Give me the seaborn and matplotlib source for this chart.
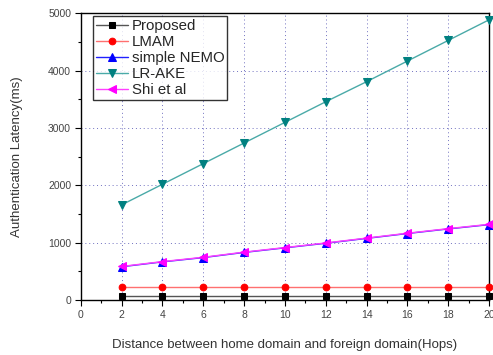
import numpy as np
import pandas as pd
import seaborn as sns
import matplotlib
matplotlib.use("Agg")
import matplotlib.pyplot as plt
from matplotlib.ticker import MultipleLocator

hops = [2, 4, 6, 8, 10, 12, 14, 16, 18, 20]
proposed = [65, 65, 65, 65, 65, 65, 65, 65, 65, 65]
lmam = [235, 235, 235, 235, 235, 235, 235, 235, 235, 235]
simple_nemo = [580, 665, 740, 830, 910, 990, 1075, 1160, 1240, 1315]
lr_ake = [1660, 2020, 2380, 2740, 3100, 3460, 3810, 4170, 4530, 4890]
shi = [585, 670, 745, 835, 915, 995, 1080, 1165, 1245, 1320]

series_names = ["Proposed", "LMAM", "simple NEMO", "LR-AKE", "Shi et al"]
series_vals = [proposed, lmam, simple_nemo, lr_ake, shi]
line_colors = ["#555555", "#ff7070", "#2020ff", "#4aaaa8", "#ff40ff"]
marker_colors = ["#000000", "#ff0000", "#0000ff", "#008080", "#ff00ff"]
markers = ["s", "o", "^", "v", "<"]
msizes = [4.2, 4.8, 5.5, 6, 6.3]

sns.set_style("white")
plt.rcParams['font.family'] = ['Liberation Sans', 'DejaVu Sans']

fig = plt.figure(figsize=(4.93, 3.55), dpi=100)
ax = fig.add_axes([0.164, 0.155, 0.828, 0.807])

df = pd.DataFrame({"hops": hops * len(series_names),
                   "latency": sum(series_vals, []),
                   "series": np.repeat(series_names, len(hops))})

for name, lc, mc, mk, ms in zip(series_names, line_colors, marker_colors, markers, msizes):
    sub = df[df.series == name]
    sns.lineplot(data=sub, x="hops", y="latency", ax=ax, color=lc, linewidth=1.0,
                 marker=mk, markersize=ms, markerfacecolor=mc, markeredgecolor=mc,
                 label=name, clip_on=False, zorder=3)

ax.set_xlim(0, 20)
ax.set_ylim(0, 5000)
ax.xaxis.set_major_locator(MultipleLocator(2))
ax.xaxis.set_minor_locator(MultipleLocator(1))
ax.yaxis.set_major_locator(MultipleLocator(1000))
ax.yaxis.set_minor_locator(MultipleLocator(500))
ax.tick_params(axis='both', which='major', direction='out', length=4, width=0.8,
               labelsize=7.5, labelcolor='#444444', color='black', pad=3,
               bottom=True, left=True)
ax.tick_params(axis='both', which='minor', direction='out', length=2.5, width=0.8,
               color='black', bottom=True, left=True)

ax.grid(True, which='major', color='#7070c0', linestyle=(0, (1, 3)), linewidth=0.7, zorder=0)

for sp in ax.spines.values():
    sp.set_visible(True)
    sp.set_color('black')
    sp.set_linewidth(1.0)

ax.set_xlabel("Distance between home domain and foreign domain(Hops)", fontsize=9.5,
              color='#333333', labelpad=14)
ax.set_ylabel("Authentication Latency(ms)", fontsize=9.5, color='#333333', labelpad=18)

leg = ax.legend(loc='upper left', bbox_to_anchor=(0.025, 0.995), frameon=True, fontsize=10.8,
                handlelength=2.15, borderpad=0.2, labelspacing=0.13, handletextpad=0.25,
                fancybox=False, edgecolor='black', borderaxespad=0.1)
leg.get_frame().set_linewidth(1.0)

fig.savefig("out.png", dpi=100)
